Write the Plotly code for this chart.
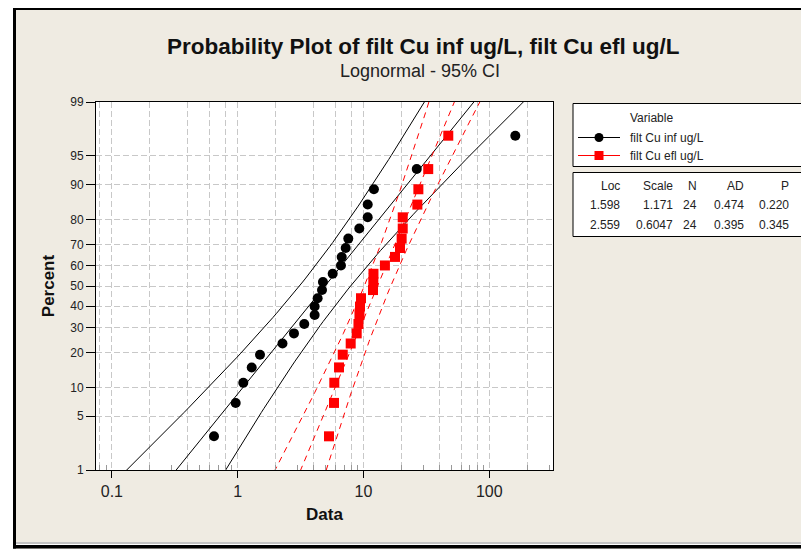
import math
from statistics import NormalDist
import plotly.graph_objects as go

# ---------------- data ----------------
inf_label = "filt Cu inf ug/L"
efl_label = "filt Cu efl ug/L"

inf_values = [0.648, 0.964, 1.108, 1.292, 1.504, 2.27, 2.80, 3.38, 4.09, 4.09, 4.32, 4.68,
              4.76, 5.69, 6.62, 6.71, 7.22, 7.57, 9.26, 10.8, 10.8, 12.1, 26.5, 161.0]
efl_values = [5.32, 5.83, 5.86, 6.39, 6.84, 7.91, 8.83, 9.12, 9.29, 9.38, 9.55, 11.9,
              11.97, 12.0, 14.8, 17.8, 19.5, 20.1, 20.5, 20.5, 26.8, 27.3, 32.7, 47.2]

stat_headers = ["Loc", "Scale", "N", "AD", "P"]
inf_stats = ["1.598", "1.171", "24", "0.474", "0.220"]
efl_stats = ["2.559", "0.6047", "24", "0.395", "0.345"]

inf_loc, inf_scale = 1.598, 1.171
efl_loc, efl_scale = 2.559, 0.6047
conf_level = 0.95

y_tick_percents = [1, 5, 10, 20, 30, 40, 50, 60, 70, 80, 90, 95, 99]
x_major_ticks = [0.1, 1, 10, 100]
x_major_text = ["0.1", "1", "10", "100"]
x_grid_vals = [0.08, 0.1, 0.2, 0.4, 0.6, 0.8, 1, 2, 4, 6, 8, 10, 20, 40, 60, 80, 100, 200]
x_minor_vals = [0.08, 0.09, 0.2, 0.3, 0.4, 0.5, 0.6, 0.7, 0.8, 0.9,
                2, 3, 4, 5, 6, 7, 8, 9, 20, 30, 40, 50, 60, 70, 80, 90, 200, 300]

# ---------------- layout helpers (page pixel coordinates) ----------------
nd = NormalDist()
OFF = 8                      # default page margin around the figure
W, H = 801, 541
PL, PR, PT, PB = 96, 553, 102, 470   # plot area in page pixels
ML, MT = PL - OFF, PT - OFF
MR, MB = W - (PR - OFF), H - (PB - OFF)
PW, PH = PR - PL, PB - PT


def px(x):
    return (x - PL) / PW


def py(y):
    return (PB - y) / PH


def ranks_z(n):
    # median ranks (Benard) used by Minitab probability plots
    return [nd.inv_cdf((i - 0.3) / (n + 0.4)) for i in range(1, n + 1)]


def fit_curves(loc, scale, n):
    zc = nd.inv_cdf(0.5 + conf_level / 2)
    zs = [-2.6 + k * 0.05 for k in range(105)]
    mid, lo, hi = [], [], []
    for z in zs:
        se = scale * math.sqrt(1.0 / n + z * z / (2.0 * n))
        m = loc + z * scale
        mid.append(math.exp(m))
        lo.append(math.exp(m - zc * se))
        hi.append(math.exp(m + zc * se))
    return zs, mid, lo, hi


fig = go.Figure()

series = [
    (inf_values, inf_loc, inf_scale, "black", "circle", "solid"),
    (efl_values, efl_loc, efl_scale, "#FF0000", "square", "6px,5px"),
]

for vals, loc, sc, col, sym, dash in series:
    zs, mid, lo, hi = fit_curves(loc, sc, len(vals))
    for xs in (lo, mid, hi):
        fig.add_trace(go.Scatter(x=xs, y=zs, mode="lines", showlegend=False,
                                 line=dict(color=col, width=1, dash=dash),
                                 hoverinfo="skip"))

for (vals, loc, sc, col, sym, dash), name in zip(series, [inf_label, efl_label]):
    fig.add_trace(go.Scatter(x=sorted(vals), y=ranks_z(len(vals)), mode="markers",
                             name=name, showlegend=False,
                             marker=dict(color=col, symbol=sym, size=10)))

# empty trace to activate the labelled overlay x axis
fig.add_trace(go.Scatter(x=[], y=[], xaxis="x2", yaxis="y", showlegend=False))

FONT = "Liberation Sans, Arial, sans-serif"
grid_col = "#C8C8C8"

fig.update_layout(
    width=W, height=H,
    margin=dict(l=ML, r=MR, t=MT, b=MB, pad=0),
    paper_bgcolor="#EFEBE2",
    plot_bgcolor="white",
    font=dict(family=FONT, color="#222222", size=12),
    showlegend=False,
    xaxis=dict(type="log", range=[-1.1264, 2.5064], tickmode="array",
               tickvals=x_grid_vals, showticklabels=False, ticks="",
               showgrid=True, gridcolor=grid_col, griddash="6px,3px", gridwidth=1,
               showline=True, linecolor="black", linewidth=1, mirror=True,
               zeroline=False,
               minor=dict(tickmode="array", tickvals=x_minor_vals, ticks="inside",
                          ticklen=5, tickcolor="#999999", showgrid=False)),
    xaxis2=dict(type="log", range=[-1.1264, 2.5064], overlaying="x", anchor="y",
                side="bottom", tickmode="array", tickvals=x_major_ticks,
                ticktext=x_major_text, ticks="outside", ticklen=7, tickcolor="black",
                showgrid=False, showline=False, zeroline=False,
                tickfont=dict(size=16, family=FONT, color="#222222"),
                title=dict(text="<b>Data</b>", font=dict(size=17, family=FONT, color="#111111"),
                           standoff=8)),
    yaxis=dict(range=[nd.inv_cdf(0.01), nd.inv_cdf(0.99)], tickmode="array",
               tickvals=[nd.inv_cdf(p / 100) for p in y_tick_percents],
               ticktext=[str(p) for p in y_tick_percents],
               ticks="outside", ticklen=9, tickcolor="black",
               showgrid=True, gridcolor=grid_col, griddash="6px,3px", gridwidth=1,
               showline=True, linecolor="black", linewidth=1, mirror=True,
               zeroline=False, tickfont=dict(size=12, family=FONT, color="#222222"),
               title=dict(text="<b>Percent</b>", font=dict(size=17, family=FONT, color="#111111"),
                          standoff=11)),
)

shapes = []
# outer frame decorations
shapes.append(dict(type="rect", xref="paper", yref="paper", x0=px(7), x1=px(13),
                   y0=py(H + OFF + 2), y1=py(7), fillcolor="white", line=dict(width=0)))
shapes.append(dict(type="rect", xref="paper", yref="paper", x0=px(13), x1=px(812),
                   y0=py(10), y1=py(7), fillcolor="black", line=dict(width=0)))
shapes.append(dict(type="rect", xref="paper", yref="paper", x0=px(13), x1=px(16),
                   y0=py(548.5), y1=py(7), fillcolor="black", line=dict(width=0)))
shapes.append(dict(type="rect", xref="paper", yref="paper", x0=px(16), x1=px(812),
                   y0=py(545), y1=py(542), fillcolor="#FFFFFF", line=dict(width=0)))
shapes.append(dict(type="line", xref="paper", yref="paper", x0=px(16), x1=px(812),
                   y0=py(543), y1=py(543), line=dict(color="#888888", width=1)))
shapes.append(dict(type="rect", xref="paper", yref="paper", x0=px(13), x1=px(812),
                   y0=py(548.5), y1=py(545), fillcolor="black", line=dict(width=0)))

# legend box
LX0, LX1 = 573, 804
shapes.append(dict(type="rect", xref="paper", yref="paper", x0=px(LX0), x1=px(LX1),
                   y0=py(166.5), y1=py(103.5), fillcolor="white",
                   line=dict(color="black", width=1)))
# stats box
shapes.append(dict(type="rect", xref="paper", yref="paper", x0=px(LX0), x1=px(LX1),
                   y0=py(236.5), y1=py(172.5), fillcolor="white",
                   line=dict(color="black", width=1)))

# legend symbols
leg_rows = [(137.5, "black", "circle", inf_label), (155.5, "#FF0000", "square", efl_label)]
annotations = []
for yy, col, sym, name in leg_rows:
    shapes.append(dict(type="line", xref="paper", yref="paper", x0=px(578), x1=px(620),
                       y0=py(yy), y1=py(yy), line=dict(color=col, width=1)))
    if sym == "circle":
        shapes.append(dict(type="circle", xref="paper", yref="paper", x0=px(594.5), x1=px(603.5),
                           y0=py(yy + 4.5), y1=py(yy - 4.5), fillcolor=col, line=dict(width=0)))
    else:
        shapes.append(dict(type="rect", xref="paper", yref="paper", x0=px(594.5), x1=px(603.5),
                           y0=py(yy + 4.5), y1=py(yy - 4.5), fillcolor=col, line=dict(width=0)))
    annotations.append(dict(xref="paper", yref="paper", x=px(628), y=py(yy), text=name,
                            showarrow=False, xanchor="left", yanchor="middle",
                            font=dict(size=12, family=FONT, color="#222222")))
annotations.append(dict(xref="paper", yref="paper", x=px(628), y=py(117.5), text="Variable",
                        showarrow=False, xanchor="left", yanchor="middle",
                        font=dict(size=12, family=FONT, color="#222222")))

# stats table
col_right = [622, 675, 699, 746, 791]
for rowy, row in zip([185.5, 205, 224.5], [stat_headers, inf_stats, efl_stats]):
    for xr, txt in zip(col_right, row):
        annotations.append(dict(xref="paper", yref="paper", x=px(xr), y=py(rowy), text=txt,
                                showarrow=False, xanchor="right", yanchor="middle",
                                font=dict(size=12, family=FONT, color="#222222")))

# titles
annotations.append(dict(xref="paper", yref="paper", x=px(423), y=py(46),
                        text="<b>Probability Plot of filt Cu inf ug/L, filt Cu efl ug/L</b>",
                        showarrow=False, xanchor="center", yanchor="middle",
                        font=dict(size=22.5, family=FONT, color="#111111")))
annotations.append(dict(xref="paper", yref="paper", x=px(420), y=py(71),
                        text="Lognormal - 95% CI",
                        showarrow=False, xanchor="center", yanchor="middle",
                        font=dict(size=18, family=FONT, color="#222222")))

fig.update_layout(shapes=shapes, annotations=annotations)
fig.write_html("out.html")
